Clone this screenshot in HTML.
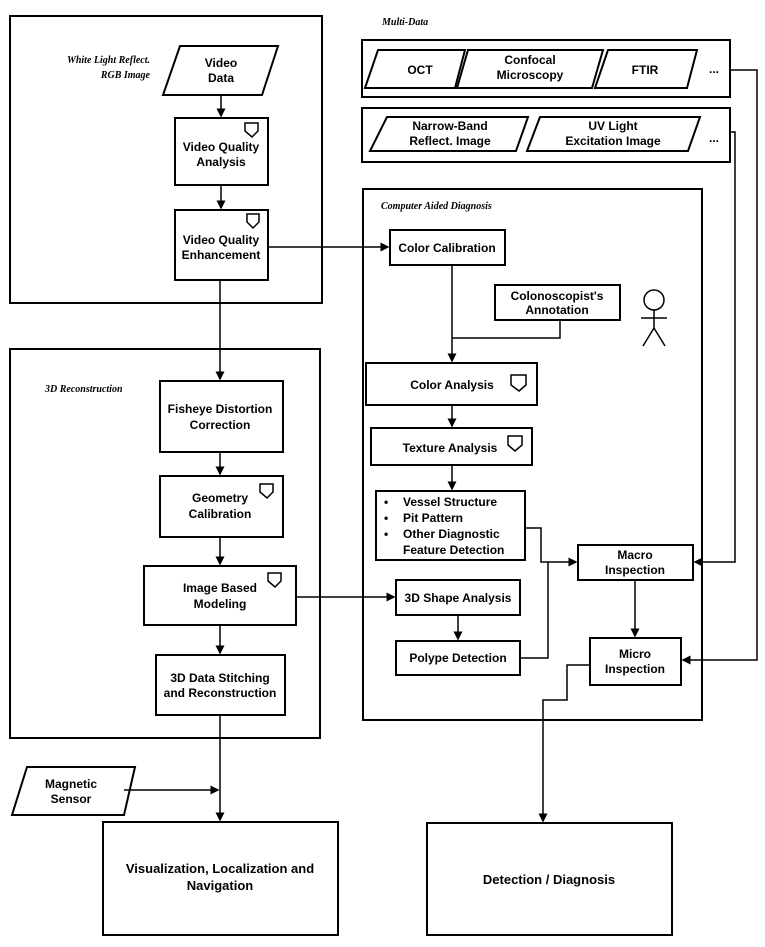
<!DOCTYPE html>
<html><head><meta charset="utf-8"><style>
html,body{margin:0;padding:0;background:#fff}
svg{display:block}
text{font-family:"Liberation Sans",sans-serif;font-weight:bold;font-size:12px;fill:#000;text-anchor:middle}
.it{font-family:"Liberation Serif",serif;font-style:italic;font-size:10px}
.big{font-size:13px}
</style></head><body>
<svg width="765" height="947" viewBox="0 0 765 947" xmlns="http://www.w3.org/2000/svg">
<defs><marker id="a" markerWidth="6" markerHeight="6" refX="5" refY="3" orient="auto"><path d="M0,0L6,3L0,6z" fill="#000"/></marker></defs>
<g fill="none" stroke="#000" stroke-width="2">
<rect x="10" y="16" width="312" height="287"/>
<rect x="10" y="349" width="310" height="389"/>
<rect x="362" y="40" width="368" height="57"/>
<rect x="362" y="108" width="368" height="54"/>
<rect x="363" y="189" width="339" height="531"/>
<path d="M180,46H278L262,95H163Z"/>
<rect x="175" y="118" width="93" height="67"/>
<rect x="175" y="210" width="93" height="70"/>
<rect x="160" y="381" width="123" height="71"/>
<rect x="160" y="476" width="123" height="61"/>
<rect x="144" y="566" width="152" height="59"/>
<rect x="156" y="655" width="129" height="60"/>
<path d="M27,767H135L124,815H12Z"/>
<rect x="103" y="822" width="235" height="113"/>
<rect x="427" y="823" width="245" height="112"/>
<path d="M378,50H465L455,88H365Z"/>
<path d="M468,50H603L592,88H457Z"/>
<path d="M608,50H697L687,88H595Z"/>
<path d="M387,117H528L516,151H370Z"/>
<path d="M540,117H700L688,151H527Z"/>
<rect x="390" y="230" width="115" height="35"/>
<rect x="495" y="285" width="125" height="35"/>
<rect x="366" y="363" width="171" height="42"/>
<rect x="371" y="428" width="161" height="37"/>
<rect x="376" y="491" width="149" height="69"/>
<rect x="396" y="580" width="124" height="35"/>
<rect x="396" y="641" width="124" height="34"/>
<rect x="578" y="545" width="115" height="35"/>
<rect x="590" y="638" width="91" height="47"/>
<path d="M245,123h13v8l-6,6l-7,-6z M247,214h12v8l-6,6l-6,-6z M260,484h13v8l-6,6l-7,-6z M268,573h13v8l-6,6l-7,-6z M511,375h15v10l-7,6l-8,-6z M508,436h14v9l-7,6l-7,-6z" stroke-width="1.5"/>
<circle cx="654" cy="300" r="10" stroke-width="1.5"/>
<path d="M654,310V328M641,318H667M654,328L643,346M654,328L665,346" stroke-width="1.5"/>
</g>
<g fill="none" stroke="#000" stroke-width="1.5">
<path d="M221,95V116" marker-end="url(#a)"/>
<path d="M221,185V208" marker-end="url(#a)"/>
<path d="M268,247H388" marker-end="url(#a)"/>
<path d="M220,280V379" marker-end="url(#a)"/>
<path d="M220,452V474" marker-end="url(#a)"/>
<path d="M220,537V564" marker-end="url(#a)"/>
<path d="M220,625V653" marker-end="url(#a)"/>
<path d="M220,715V820" marker-end="url(#a)"/>
<path d="M124,790H218" marker-end="url(#a)"/>
<path d="M296,597H394" marker-end="url(#a)"/>
<path d="M452,265V361" marker-end="url(#a)"/>
<path d="M560,320V338H452"/>
<path d="M452,405V426" marker-end="url(#a)"/>
<path d="M452,465V489" marker-end="url(#a)"/>
<path d="M458,615V639" marker-end="url(#a)"/>
<path d="M525,528H541V562H576" marker-end="url(#a)"/>
<path d="M520,658H548V562"/>
<path d="M635,580V636" marker-end="url(#a)"/>
<path d="M590,665H567V700H543V821" marker-end="url(#a)"/>
<path d="M730,70H757V660H683" marker-end="url(#a)"/>
<path d="M730,132H735V562H695" marker-end="url(#a)"/>
</g>
<text class="it" x="150" y="63" style="text-anchor:end">White Light Reflect.</text>
<text class="it" x="150" y="78" style="text-anchor:end">RGB Image</text>
<text class="it" x="45" y="392" style="text-anchor:start">3D Reconstruction</text>
<text class="it" x="382" y="25" style="text-anchor:start">Multi-Data</text>
<text class="it" x="381" y="209" style="text-anchor:start">Computer Aided Diagnosis</text>
<text x="221" y="67">Video</text><text x="221" y="82">Data</text>
<text x="221" y="151">Video Quality</text><text x="221" y="166">Analysis</text>
<text x="221" y="244">Video Quality</text><text x="221" y="259">Enhancement</text>
<text x="220" y="413">Fisheye Distortion</text><text x="220" y="429">Correction</text>
<text x="220" y="502">Geometry</text><text x="220" y="518">Calibration</text>
<text x="220" y="592">Image Based</text><text x="220" y="608">Modeling</text>
<text x="220" y="682">3D Data Stitching</text><text x="220" y="697">and Reconstruction</text>
<text x="71" y="788">Magnetic</text><text x="71" y="803">Sensor</text>
<text class="big" x="220" y="873">Visualization, Localization and</text><text class="big" x="220" y="890">Navigation</text>
<text class="big" x="549" y="884">Detection / Diagnosis</text>
<text x="420" y="74">OCT</text>
<text x="530" y="64">Confocal</text><text x="530" y="79">Microscopy</text>
<text x="645" y="74">FTIR</text>
<text x="714" y="73">...</text>
<text x="450" y="130">Narrow-Band</text><text x="450" y="145">Reflect. Image</text>
<text x="613" y="130">UV Light</text><text x="613" y="145">Excitation Image</text>
<text x="714" y="142">...</text>
<text x="447" y="252">Color Calibration</text>
<text x="557" y="300">Colonoscopist's</text><text x="557" y="314">Annotation</text>
<text x="452" y="389">Color Analysis</text>
<text x="450" y="452">Texture Analysis</text>
<text x="403" y="506" style="text-anchor:start">Vessel Structure</text>
<text x="403" y="522" style="text-anchor:start">Pit Pattern</text>
<text x="403" y="538" style="text-anchor:start">Other Diagnostic</text>
<text x="403" y="554" style="text-anchor:start">Feature Detection</text>
<text x="384" y="506" style="text-anchor:start">•</text>
<text x="384" y="522" style="text-anchor:start">•</text>
<text x="384" y="538" style="text-anchor:start">•</text>
<text x="458" y="602">3D Shape Analysis</text>
<text x="458" y="662">Polype Detection</text>
<text x="635" y="559">Macro</text><text x="635" y="574">Inspection</text>
<text x="635" y="658">Micro</text><text x="635" y="673">Inspection</text>
</svg>
</body></html>
